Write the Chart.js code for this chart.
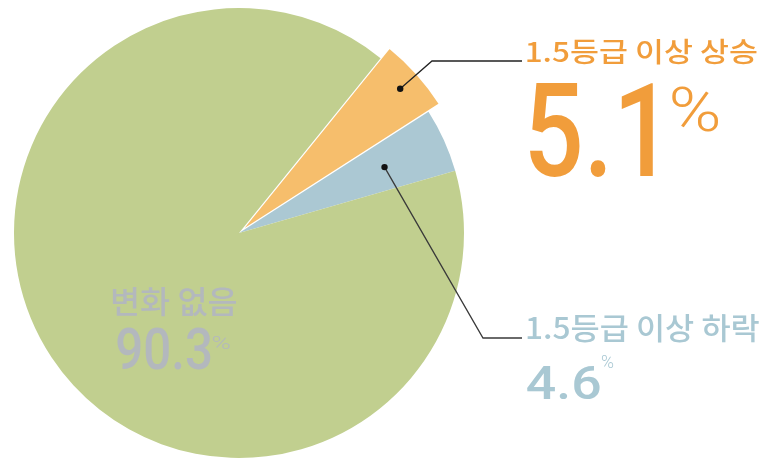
<!DOCTYPE html>
<html lang="ko">
<head>
    <meta charset="UTF-8">
    <script src="https://cdn.jsdelivr.net/npm/chart.js"></script>
    <title>등급 변화</title>
    <style>
        body {
            margin: 0;
            padding: 0;
            background-color: #fff;
        }
        #wrap {
            width: 765px;
            height: 459px;
            position: relative;
        }
    </style>
</head>
<body>
    <div id="wrap"><canvas id="pieChart"></canvas></div>

    <script>
        // données
        const labels = ['1.5등급 이상 상승', '1.5등급 이상 하락', '변화 없음'];
        const values = [5.1, 4.6, 90.3];
        const valueLabels = ['5.1', '4.6', '90.3'];
        const sliceColors = ['#f6be6c', '#abc8d3', '#c1cf8f'];
        const textColors = ['#f19d3b', '#a9c8d3', '#b3b8bd'];

        // agrandir la part orange (rayon plus grand)
        const growSlice = {
            id: 'growSlice',
            afterDatasetUpdate(chart, args) {
                const arc = args.meta.data[0];
                if (arc) arc.outerRadius = arc.outerRadius + 14;
            }
        };

        // texte ajusté dans une boite (gauche, haut, droite, bas)
        function fitText(ctx, str, box, weight, family, color) {
            const [l, t, r, b] = box;
            ctx.font = weight + ' 100px ' + family;
            let m = ctx.measureText(str);
            const size = 100 * (b - t) / (m.actualBoundingBoxAscent + m.actualBoundingBoxDescent);
            ctx.font = weight + ' ' + size + 'px ' + family;
            m = ctx.measureText(str);
            const w = m.actualBoundingBoxLeft + m.actualBoundingBoxRight;
            const sx = (r - l) / w;
            ctx.save();
            ctx.fillStyle = color;
            ctx.textBaseline = 'alphabetic';
            ctx.translate(l + m.actualBoundingBoxLeft * sx, b - m.actualBoundingBoxDescent);
            ctx.scale(sx, 1);
            ctx.fillText(str, 0, 0);
            ctx.restore();
        }

        const annotations = {
            id: 'annotations',
            afterDraw(chart) {
                const ctx = chart.ctx;
                const arcs = chart.getDatasetMeta(0).data;
                const kr = '"Noto Sans CJK KR", sans-serif';
                const num = 'Roboto, "DejaVu Sans", sans-serif';

                // points + lignes de rappel
                const anchor = (arc, frac) => {
                    const a = (arc.startAngle + arc.endAngle) / 2;
                    const r = frac * arc.outerRadius;
                    return {x: arc.x + Math.cos(a) * r, y: arc.y + Math.sin(a) * r};
                };
                const p0 = anchor(arcs[0], 0.905);
                const p1 = anchor(arcs[1], 0.71);

                ctx.save();
                ctx.lineWidth = 1.3;
                ctx.strokeStyle = '#222';
                ctx.beginPath();
                ctx.moveTo(p0.x, p0.y);
                ctx.lineTo(432, 61);
                ctx.lineTo(522, 61);
                ctx.stroke();
                ctx.strokeStyle = '#3a3a3a';
                ctx.beginPath();
                ctx.moveTo(p1.x, p1.y);
                ctx.lineTo(483, 338);
                ctx.lineTo(522, 338);
                ctx.stroke();
                ctx.fillStyle = '#111';
                [p0, p1].forEach(p => {
                    ctx.beginPath();
                    ctx.arc(p.x, p.y, 3.2, 0, Math.PI * 2);
                    ctx.fill();
                });
                ctx.restore();

                // 상승
                fitText(ctx, labels[0], [527, 40, 757, 65], '500', kr, textColors[0]);
                fitText(ctx, valueLabels[0], [530, 82, 653, 177], '500', num, textColors[0]);
                fitText(ctx, '%', [672, 87, 718, 132], '300', num, textColors[0]);

                // 하락
                fitText(ctx, labels[1], [527, 315, 759, 343], '500', kr, textColors[1]);
                fitText(ctx, valueLabels[1], [527, 365, 600, 399], '500', num, textColors[1]);
                fitText(ctx, '%', [601, 355, 614, 368], '300', num, textColors[1]);

                // 변화 없음
                fitText(ctx, labels[2], [112, 288, 237, 317], '500', kr, textColors[2]);
                fitText(ctx, valueLabels[2], [117, 328, 211, 370], '500', num, textColors[2]);
                fitText(ctx, '%', [213, 335, 231, 349], '300', num, textColors[2]);
            }
        };

        new Chart(document.getElementById('pieChart'), {
            type: 'pie',
            data: {
                labels: labels,
                datasets: [{
                    data: values,
                    backgroundColor: sliceColors,
                    borderColor: '#ffffff',
                    borderWidth: [2.5, 0, 0],
                    clip: false
                }]
            },
            options: {
                responsive: true,
                maintainAspectRatio: false,
                animation: false,
                events: [],
                rotation: 39,
                radius: 225,
                layout: {
                    padding: {left: 0, right: 287, top: 7, bottom: 0}
                },
                plugins: {
                    legend: {display: false},
                    tooltip: {enabled: false}
                }
            },
            plugins: [growSlice, annotations]
        });
    </script>
</body>
</html>
